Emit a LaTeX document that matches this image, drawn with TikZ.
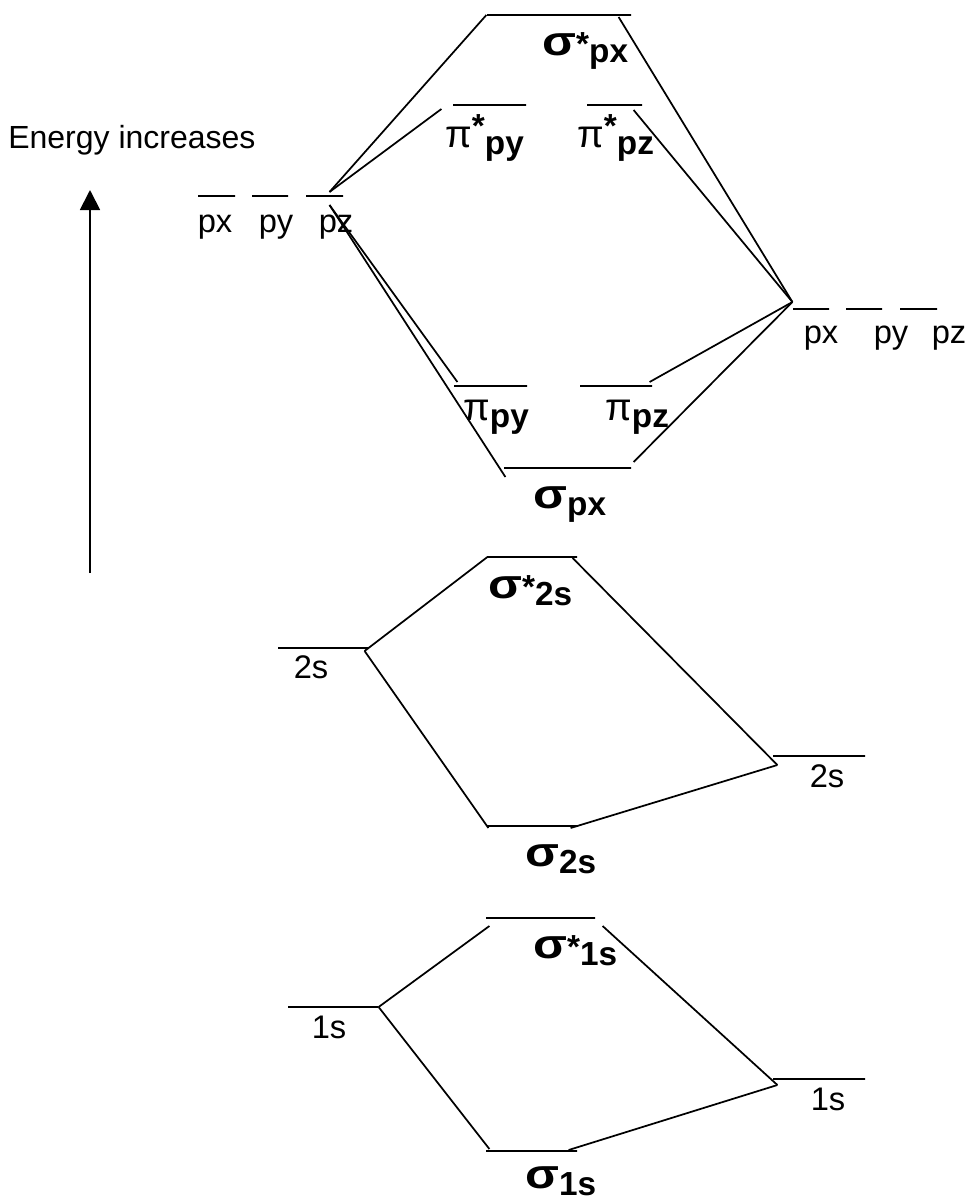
\documentclass[tikz,border=0pt]{standalone}
\usepackage{fontspec}
\setmainfont{Liberation Sans}
\usetikzlibrary{arrows.meta}

\newcommand{\bsig}{{\fontsize{31}{31}\selectfont\bfseries\scalebox{1.2}[1]{σ}}}
\newcommand{\rpi}{{\fontsize{29}{29}\selectfont π}}
\newcommand{\mo}[4][0em]{#2\raisebox{#1}{\bfseries #3}\raisebox{-0.22em}{\bfseries #4}}

\begin{document}
\begin{tikzpicture}[x=0.75pt, y=-0.75pt,
    level/.style={draw, minimum width=#1*0.75pt, minimum height=0pt, inner sep=0pt, line width=0.9pt},
    ao/.style={font=\fontsize{24.5}{24.5}\selectfont, inner sep=0pt, anchor=base},
    mol/.style={font=\fontsize{25}{25}\selectfont, inner sep=0pt, anchor=base west},
    link/.style={line width=1.3pt}]
    \useasboundingbox (0,0) rectangle (971,1203);

    % Atomic levels
    \node[level=37] (Lpx) at (216.5,196) {};
    \node[level=36] (Lpy) at (270,196) {};
    \node[level=37] (Lpz) at (324.5,196) {};
    \node[level=36] (Rpx) at (811,309) {};
    \node[level=36] (Rpy) at (864,309) {};
    \node[level=37] (Rpz) at (918.5,309) {};
    \node[level=90] (L2s) at (323,648) {};
    \node[level=92] (R2s) at (819,756) {};
    \node[level=90] (L1s) at (333,1007) {};
    \node[level=92] (R1s) at (819,1079) {};

    % Molecular levels
    \node[level=144] (sxs) at (559,15) {};
    \node[level=73] (pys) at (489.5,105) {};
    \node[level=55] (pzs) at (614.5,105) {};
    \node[level=73] (py) at (490.5,386) {};
    \node[level=72] (pz) at (616,386) {};
    \node[level=127] (sx) at (567.5,468) {};
    \node[level=90] (s2s) at (532,557) {};
    \node[level=91] (s2) at (532.5,826) {};
    \node[level=109] (s1s) at (540.5,918) {};
    \node[level=91] (s1) at (531.5,1151) {};

    % Junctions
    \coordinate (cL) at ([shift={(5,-4)}]Lpz.center);
    \coordinate (cLd) at ([shift={(5,9)}]Lpz.center);
    \coordinate (cR) at ([shift={(0,-7)}]Rpx.west);
    \coordinate (c2L) at ([shift={(-4,3)}]L2s.east);
    \coordinate (c2R) at ([shift={(5,9)}]R2s.west);
    \coordinate (c1L) at (L1s.east);
    \coordinate (c1R) at ([shift={(5,6)}]R1s.west);

    % Connectors
    \draw[link] (cL) -- (sxs.west);
    \draw[link] (cL) -- ([shift={(-11,4)}]pys.west);
    \draw[link] (cLd) -- ([shift={(4,-4)}]py.west);
    \draw[link] (cLd) -- ([shift={(2,9)}]sx.west);
    \draw[link] ([shift={(-13,2)}]sxs.east) -- (cR);
    \draw[link] ([shift={(-9,5)}]pzs.east) -- (cR);
    \draw[link] ([shift={(-3,-4)}]pz.east) -- (cR);
    \draw[link] ([shift={(2,-6)}]sx.east) -- (cR);
    \draw[link] (c2L) -- ([shift={(1,0)}]s2s.west);
    \draw[link] (c2L) -- ([shift={(2,2)}]s2.west);
    \draw[link] ([shift={(-5,1)}]s2s.east) -- (c2R);
    \draw[link] (c2R) -- ([shift={(-8,2)}]s2.east);
    \draw[link] (c1L) -- ([shift={(4,8)}]s1s.west);
    \draw[link] (c1L) -- ([shift={(4,-2)}]s1.west);
    \draw[link] ([shift={(7,8)}]s1s.east) -- (c1R);
    \draw[link] (c1R) -- ([shift={(-9,-1)}]s1.east);

    % Energy arrow
    \coordinate (ebot) at (90,573);
    \coordinate (etop) at (90,190);
    \draw[line width=1.4pt, -{Triangle[width=15pt, length=15pt]}] (ebot) -- (etop);
    \node[anchor=west, inner sep=0pt, font=\fontsize{24}{24}\selectfont] (elab) at (8,140) {Energy increases};

    % Labels
    \node[ao] (tLpx) at (215,232) {px};
    \node[ao] (tLpy) at (276,232) {py};
    \node[ao] (tLpz) at (336,232) {pz};
    \node[ao] (tRpx) at (821,343) {px};
    \node[ao] (tRpy) at (891,343) {py};
    \node[ao] (tRpz) at (949,343) {pz};
    \node[ao] (tL2s) at (311,678) {2s};
    \node[ao] (tR2s) at (827,787) {2s};
    \node[ao] (tL1s) at (329,1038) {1s};
    \node[ao] (tR1s) at (828,1110) {1s};

    \node[mol] (tsxs) at (542,55) {\mo{\bsig}{*}{px}};
    \node[mol] (tpys) at (445,147) {\mo[0.3em]{\rpi}{*}{py}};
    \node[mol] (tpzs) at (577,147) {\mo[0.3em]{\rpi}{*}{pz}};
    \node[mol] (tpy) at (463,420) {\mo{\rpi}{}{py}};
    \node[mol] (tpz) at (605,420) {\mo{\rpi}{}{pz}};
    \node[mol] (tsx) at (533,508) {\mo{\bsig}{}{px}};
    \node[mol] (ts2s) at (488,598) {\mo{\bsig}{*}{2s}};
    \node[mol] (ts2) at (525,866) {\mo{\bsig}{}{2s}};
    \node[mol] (ts1s) at (533,958) {\mo{\bsig}{*}{1s}};
    \node[mol] (ts1) at (525,1188) {\mo{\bsig}{}{1s}};
\end{tikzpicture}
\end{document}
